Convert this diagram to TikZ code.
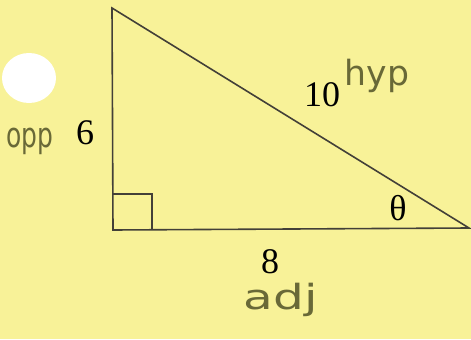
\documentclass[tikz,border=0pt]{standalone}
\usepackage{fontspec}
\setmainfont{Liberation Serif}
\newfontfamily\handfont{DejaVu Sans}[Scale=1]
\begin{document}
\begin{tikzpicture}[x=0.75pt,y=-0.75pt,
  edge/.style={draw=black!85!yellow,line width=1.2pt},
  lbl/.style={font=\fontsize{27}{29}\selectfont,text=black},
  hand/.style={font=\handfont\fontsize{26}{28}\selectfont,text={rgb,255:red,105;green,105;blue,55}}]
\definecolor{paper}{RGB}{248,242,152}
\fill[paper] (0,0) rectangle (471,339);
\useasboundingbox (0,0) rectangle (471,339);
\fill[white] (29,78) ellipse (27 and 25);
\coordinate (A) at (112,8);
\coordinate (B) at (113,230);
\coordinate (C) at (469,228);
\draw[edge] (A) -- (B) -- (C) -- cycle;
\draw[edge] (113,194) -- (152,194) -- (152,230);
\node[lbl] (six) at (85,133) {6};
\node[lbl] (ten) at (322,95) {10};
\node[lbl] (theta) at (398,208) {θ};
\node[lbl] (eight) at (270,262) {8};
\node[hand] (hyp) at (377,76) {hyp};
\node[hand,xscale=1.4,transform shape] (adj) at (281,300) {adj};
\node[hand,xscale=0.72,transform shape] (opp) at (30,141) {opp};
\end{tikzpicture}
\end{document}
